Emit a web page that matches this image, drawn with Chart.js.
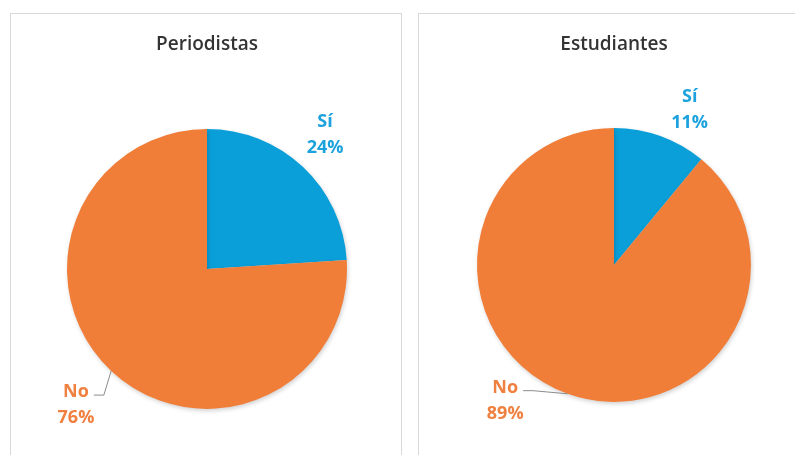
<!DOCTYPE html>
<html>
<head>
<meta charset="utf-8">
<script src="https://cdn.jsdelivr.net/npm/chart.js@4/dist/chart.umd.min.js"></script>
<style>
  html, body { margin: 0; padding: 0; background: #fff; overflow: hidden; width: 795px; height: 455px; }
  .panel { position: absolute; top: 13px; width: 390px; height: 460px; border: 1px solid #d9d9d9; }
  #panel1 { left: 10px; }
  #panel2 { left: 418px; }
  canvas { position: absolute; left: 0; top: 0; }
</style>
</head>
<body>
<div class="panel" id="panel1"><canvas id="pie1" width="390" height="441"></canvas></div>
<div class="panel" id="panel2"><canvas id="pie2" width="390" height="441"></canvas></div>
<script>
const categories = ['Sí', 'No'];
const periodistasValues = [24, 76];
const estudiantesValues = [11, 89];
const titles = ['Periodistas', 'Estudiantes'];

const sliceColors = ['#0a9fd9', '#f07e38'];
const labelColors = ['#1ca2dc', '#f08040'];

// soft shadow under the pie, like the spreadsheet export
const pieShadow = {
    id: 'pieShadow',
    beforeDatasetsDraw(chart) {
        const ctx = chart.ctx;
        ctx.save();
        ctx.shadowColor = 'rgba(0, 0, 0, 0.18)';
        ctx.shadowBlur = 4;
        ctx.shadowOffsetX = 1;
        ctx.shadowOffsetY = 2;
    },
    afterDatasetsDraw(chart) {
        chart.ctx.restore();
    }
};

// draws the "Sí / 24%" style labels beside each slice, with an optional leader line
const outsideLabels = {
    id: 'outsideLabels',
    afterDatasetsDraw(chart, args, opts) {
        const ctx = chart.ctx;
        const meta = chart.getDatasetMeta(0);
        const values = chart.data.datasets[0].data;
        const total = values.reduce((a, b) => a + b, 0);
        ctx.save();
        ctx.font = 'bold 18px "Open Sans", sans-serif';
        ctx.textAlign = 'center';
        ctx.textBaseline = 'middle';
        meta.data.forEach((arc, i) => {
            const p = arc.getProps(['x', 'y', 'outerRadius', 'startAngle', 'endAngle'], true);
            const place = opts.places[i];
            const a = place.angle * Math.PI / 180;
            const lx = p.x + Math.cos(a) * p.outerRadius * place.dist;
            const ly = p.y + Math.sin(a) * p.outerRadius * place.dist;
            const name = chart.data.labels[i];
            const pct = Math.round(values[i] / total * 100) + '%';
            ctx.fillStyle = labelColors[i];
            ctx.fillText(name, lx, ly - 13);
            ctx.fillText(pct, lx, ly + 13);
            if (place.leader) {
                const mid = (p.startAngle + p.endAngle) / 2;
                const ex = p.x + Math.cos(mid) * p.outerRadius;
                const ey = p.y + Math.sin(mid) * p.outerRadius;
                const right = lx + ctx.measureText(name).width / 2;
                const yLine = ly - 10;
                ctx.strokeStyle = '#8c8c8c';
                ctx.lineWidth = 1;
                ctx.beginPath();
                ctx.moveTo(ex, ey);
                ctx.lineTo(right + place.leader, yLine);
                ctx.lineTo(right + 5, yLine);
                ctx.stroke();
            }
        });
        ctx.restore();
    }
};

function makePie(id, title, values, pad, places) {
    const ctx = document.getElementById(id).getContext('2d');
    return new Chart(ctx, {
        type: 'pie',
        data: {
            labels: categories,
            datasets: [{
                data: values,
                backgroundColor: sliceColors,
                borderWidth: 0,
                hoverOffset: 0
            }]
        },
        options: {
            responsive: false,
            animation: false,
            events: [],
            layout: { padding: pad },
            plugins: {
                legend: { display: false },
                tooltip: { enabled: false },
                title: {
                    display: true,
                    text: title,
                    color: '#333333',
                    font: { family: '"Open Sans", sans-serif', size: 19, weight: '600' },
                    padding: { top: 19, bottom: pad.titleGap }
                },
                outsideLabels: { places: places }
            }
        },
        plugins: [pieShadow, outsideLabels]
    });
}

makePie('pie1', titles[0], periodistasValues,
    { left: 56, right: 54, top: 0, bottom: 46, titleGap: 73 },
    [{ angle: -48.6, dist: 1.275 }, { angle: 133.9, dist: 1.35, leader: 15 }]);

makePie('pie2', titles[1], estudiantesValues,
    { left: 58, right: 58, top: 0, bottom: 53, titleGap: 72 },
    [{ angle: -64, dist: 1.26 }, { angle: 128.7, dist: 1.27, leader: 15 }]);
</script>
</body>
</html>
